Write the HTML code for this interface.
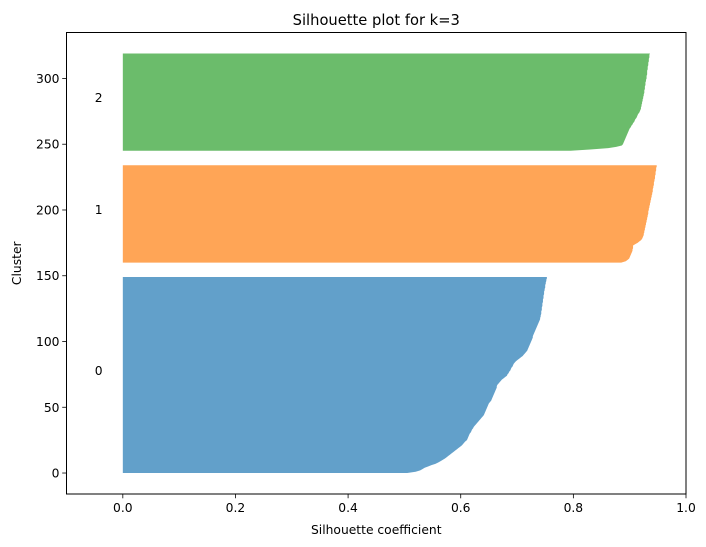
<!DOCTYPE html>
<html><head><meta charset="utf-8"><style>
body{margin:0;background:#fff;}
svg{display:block;font-family:"DejaVu Sans","Liberation Sans",sans-serif;}
</style></head><body>
<svg id="chart" width="706" height="547" viewBox="0 0 706 547">
<rect width="706" height="547" fill="#fff"/>
<g id="plot"></g>
<g id="axes"></g>
</svg>
<script>
const clusterNames = ["0","1","2"];
const clusterColors = ["#1f77b4","#ff7f0e","#2ca02c"];
const cluster0Values = [0.505,0.520,0.528,0.532,0.536,0.542,0.548,0.555,0.560,0.564,
0.568,0.572,0.575,0.578,0.581,0.584,0.587,0.590,0.593,0.596,
0.599,0.602,0.604,0.606,0.608,0.611,0.612,0.613,0.614,0.615,
0.616,0.618,0.619,0.620,0.622,0.623,0.625,0.627,0.629,0.631,
0.633,0.635,0.637,0.639,0.641,0.642,0.643,0.644,0.645,0.646,
0.647,0.648,0.649,0.650,0.652,0.654,0.655,0.656,0.657,0.658,
0.659,0.660,0.661,0.662,0.663,0.664,0.664,0.665,0.667,0.669,
0.671,0.673,0.676,0.679,0.682,0.683,0.685,0.686,0.688,0.689,
0.690,0.692,0.693,0.694,0.696,0.698,0.701,0.704,0.707,0.710,
0.712,0.714,0.716,0.718,0.719,0.720,0.721,0.722,0.723,0.724,
0.725,0.726,0.727,0.728,0.728,0.729,0.730,0.731,0.732,0.733,
0.734,0.735,0.736,0.737,0.738,0.739,0.740,0.741,0.741,0.742,
0.742,0.743,0.743,0.743,0.744,0.744,0.744,0.745,0.745,0.745,
0.746,0.746,0.746,0.747,0.747,0.747,0.748,0.748,0.748,0.749,
0.749,0.750,0.750,0.750,0.751,0.751,0.752,0.752,0.753,0.753];
const cluster1Values = [0.885,0.893,0.896,0.899,0.900,0.901,0.902,0.903,0.904,0.905,
0.905,0.906,0.906,0.906,0.910,0.914,0.917,0.920,0.922,0.923,
0.924,0.925,0.925,0.926,0.926,0.927,0.927,0.928,0.928,0.929,
0.929,0.930,0.930,0.931,0.931,0.932,0.932,0.933,0.933,0.933,
0.934,0.934,0.935,0.935,0.936,0.936,0.937,0.937,0.938,0.938,
0.939,0.939,0.940,0.940,0.941,0.941,0.941,0.942,0.942,0.943,
0.943,0.943,0.944,0.944,0.945,0.945,0.945,0.946,0.946,0.946,0.947,0.947,0.947,0.948,0.948];
const cluster2Values = [0.795,0.830,0.862,0.876,0.886,0.888,0.889,0.890,0.891,0.892,
0.893,0.894,0.895,0.896,0.897,0.898,0.899,0.900,0.902,0.903,
0.905,0.906,0.908,0.909,0.910,0.912,0.913,0.914,0.915,0.917,
0.918,0.919,0.920,0.920,0.921,0.921,0.922,0.922,0.923,0.923,
0.924,0.924,0.925,0.925,0.926,0.926,0.926,0.927,0.927,0.927,
0.928,0.928,0.928,0.929,0.929,0.930,0.930,0.930,0.931,0.931,
0.931,0.931,0.932,0.932,0.932,0.933,0.933,0.933,0.934,0.934,0.934,0.935,0.935,0.935,0.936];
const xTicks = [0.0,0.2,0.4,0.6,0.8,1.0];
const xTickLabels = ["0.0","0.2","0.4","0.6","0.8","1.0"];
const yTicks = [0,50,100,150,200,250,300];
const yTickLabels = ["0","50","100","150","200","250","300"];

const NS="http://www.w3.org/2000/svg";
const L=66.5,R=686,T=32.5,B=494;
const xMin=-0.1,xMax=1.0,yMin=-15.95,yMax=334.95;
const xs=v=>L+(v-xMin)/(xMax-xMin)*(R-L);
const ys=v=>B-(v-yMin)/(yMax-yMin)*(B-T);
function mk(tag,attrs,parent){const e=document.createElementNS(NS,tag);for(const k in attrs)e.setAttribute(k,attrs[k]);parent.appendChild(e);return e;}
const plot=document.getElementById('plot'), axes=document.getElementById('axes');
const all=[cluster0Values,cluster1Values,cluster2Values];
let yLower=0;
all.forEach((vals,c)=>{
  let pts=[[xs(0),ys(yLower)]];
  vals.forEach((v,i)=>pts.push([xs(v),ys(yLower+i)]));
  pts.push([xs(0),ys(yLower+vals.length-1)]);
  const p=mk('polygon',{points:pts.map(p=>p[0].toFixed(2)+','+p[1].toFixed(2)).join(' '),fill:clusterColors[c],'fill-opacity':0.7},plot);
  
  
  const t=mk('text',{x:xs(-0.05)+4,y:ys(yLower+vals.length/2)+0.5,'font-size':12.3,'text-anchor':'middle',fill:'#000'},plot);
  t.textContent=clusterNames[c];
  
  
  yLower+=vals.length+10;
});
const frame=mk('rect',{x:L,y:T,width:R-L,height:B-T,fill:'none',stroke:'#000','stroke-width':1},axes);


xTicks.forEach((v,i)=>{
  const x=xs(v);
  mk('line',{x1:x,x2:x,y1:B,y2:B+4.3,stroke:'#000','stroke-width':0.8},axes);
  const t=mk('text',{x:x,y:B+18,'font-size':12.3,'text-anchor':'middle'},axes);
  t.textContent=xTickLabels[i];
  
  
});
yTicks.forEach((v,i)=>{
  const y=ys(v);
  mk('line',{x1:L-4.3,x2:L,y1:y,y2:y,stroke:'#000','stroke-width':0.8},axes);
  const t=mk('text',{x:L-7,y:y+4.5,'font-size':12.3,'text-anchor':'end'},axes);
  t.textContent=yTickLabels[i];
  
  
});
const xt=mk('text',{x:(L+R)/2,y:534,'font-size':12.3,'text-anchor':'middle'},axes);
xt.textContent='Silhouette coefficient';


const yt=mk('text',{x:0,y:0,'font-size':12.3,'text-anchor':'middle',transform:'translate(21,'+((T+B)/2)+') rotate(-90)'},axes);
yt.textContent='Cluster';


const ti=mk('text',{x:(L+R)/2,y:25,'font-size':14.7,'text-anchor':'middle'},axes);
ti.textContent='Silhouette plot for k=3';


</script>
</body></html>
